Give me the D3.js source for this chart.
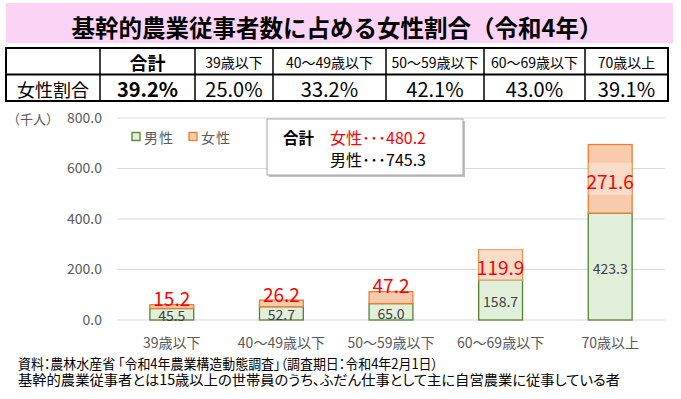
<!DOCTYPE html>
<html>
<head>
<meta charset="utf-8">
<script src="https://cdn.jsdelivr.net/npm/d3@7"></script>
<style>
  body { margin: 0; background: #fff; }
  svg { display: block; font-family: "Noto Sans CJK JP", "Noto Sans", sans-serif; }
</style>
</head>
<body>
<svg id="chart" width="681" height="399"></svg>
<script>
// data
const ageGroups = ["39歳以下", "40～49歳以下", "50～59歳以下", "60～69歳以下", "70歳以上"];
const maleValues = [45.5, 52.7, 65.0, 158.7, 423.3];
const femaleValues = [15.2, 26.2, 47.2, 119.9, 271.6];
const yTicks = [0, 200, 400, 600, 800];
const tableHeaders = ["合計", "39歳以下", "40～49歳以下", "50～59歳以下", "60～69歳以下", "70歳以上"];
const femaleShares = ["39.2%", "25.0%", "33.2%", "42.1%", "43.0%", "39.1%"];
const totalFemale = 480.2;
const totalMale = 745.3;

const svg = d3.select("#chart");

// title band
svg.append("rect")
  .attr("x", 6).attr("y", 3).attr("width", 667).attr("height", 40)
  .attr("fill", "#fbd3f5");
svg.append("text")
  .attr("x", 337).attr("y", 27)
  .attr("text-anchor", "middle")
  .attr("dominant-baseline", "central")
  .attr("font-size", 23.5).attr("font-weight", "bold")
  .attr("fill", "#000")
  .text("基幹的農業従事者数に占める女性割合（令和4年）");

// share table
const colEdges = [6, 100, 195, 273, 386, 484, 585, 668];
const rowEdges = [48, 74.5, 101];
const table = svg.append("g");

table.selectAll("line.v")
  .data(colEdges.slice(1, -1))
  .enter().append("line")
  .attr("x1", d => d).attr("x2", d => d)
  .attr("y1", rowEdges[0]).attr("y2", rowEdges[2])
  .attr("stroke", "#000").attr("stroke-width", 1.5);
table.append("line")
  .attr("x1", colEdges[0]).attr("x2", colEdges[7])
  .attr("y1", rowEdges[1]).attr("y2", rowEdges[1])
  .attr("stroke", "#000").attr("stroke-width", 1.8);
table.append("rect")
  .attr("x", colEdges[0]).attr("y", rowEdges[0])
  .attr("width", colEdges[7] - colEdges[0]).attr("height", rowEdges[2] - rowEdges[0])
  .attr("fill", "none").attr("stroke", "#000").attr("stroke-width", 2);

table.selectAll("text.head")
  .data(tableHeaders)
  .enter().append("text")
  .attr("x", (d, i) => (colEdges[i + 1] + colEdges[i + 2]) / 2)
  .attr("y", (rowEdges[0] + rowEdges[1]) / 2 + 1)
  .attr("text-anchor", "middle")
  .attr("dominant-baseline", "central")
  .attr("font-size", (d, i) => i === 0 ? 18 : 14)
  .attr("font-weight", (d, i) => i === 0 ? "bold" : "normal")
  .attr("fill", "#000")
  .text(d => d);

table.append("text")
  .attr("x", (colEdges[0] + colEdges[1]) / 2)
  .attr("y", (rowEdges[1] + rowEdges[2]) / 2 + 1)
  .attr("text-anchor", "middle")
  .attr("dominant-baseline", "central")
  .attr("font-size", 18)
  .text("女性割合");

table.selectAll("text.val")
  .data(femaleShares)
  .enter().append("text")
  .attr("x", (d, i) => (colEdges[i + 1] + colEdges[i + 2]) / 2)
  .attr("y", (rowEdges[1] + rowEdges[2]) / 2 + 1)
  .attr("text-anchor", "middle")
  .attr("dominant-baseline", "central")
  .attr("font-size", 20)
  .attr("font-weight", (d, i) => i === 0 ? "bold" : "normal")
  .text(d => d);

// chart
const plotLeft = 117, plotRight = 665, plotTop = 118, plotBottom = 320;

const x = d3.scaleBand()
  .domain(ageGroups)
  .range([plotLeft, plotRight])
  .paddingInner(0.6)
  .paddingOuter(0.3);

const y = d3.scaleLinear()
  .domain([0, 800])
  .range([plotBottom, plotTop]);

// gridlines
svg.append("g")
  .selectAll("line")
  .data(yTicks)
  .enter().append("line")
  .attr("x1", plotLeft).attr("x2", plotRight)
  .attr("y1", d => y(d)).attr("y2", d => y(d))
  .attr("stroke", "#d9d9d9").attr("stroke-width", 1.2);

// y axis
const yAxis = svg.append("g")
  .attr("transform", `translate(${plotLeft},0)`)
  .call(d3.axisLeft(y).tickValues(yTicks).tickFormat(d3.format(".1f")).tickSize(0).tickPadding(15));
yAxis.select(".domain").remove();
yAxis.selectAll("text")
  .attr("font-family", "\"Noto Sans CJK JP\", sans-serif")
  .attr("font-size", 14).attr("fill", "#595959");

svg.append("text")
  .attr("x", 7).attr("y", y(800))
  .attr("dominant-baseline", "central")
  .attr("font-size", 13).attr("fill", "#595959")
  .text("（千人）");

// x axis
const xAxis = svg.append("g")
  .attr("transform", `translate(0,${plotBottom})`)
  .call(d3.axisBottom(x).tickSize(0).tickPadding(18));
xAxis.select(".domain").remove();
xAxis.selectAll("text")
  .attr("font-family", "\"Noto Sans CJK JP\", sans-serif")
  .attr("font-size", 14).attr("fill", "#595959");

// stacked bars
const rows = ageGroups.map((g, i) => ({ group: g, male: maleValues[i], female: femaleValues[i] }));
const stacked = d3.stack().keys(["male", "female"])(rows);
const fills = { male: "#e2efda", female: "#f8cbad" };
const strokes = { male: "#548235", female: "#ed7d31" };

svg.append("g")
  .selectAll("g")
  .data(stacked)
  .enter().append("g")
  .attr("fill", d => fills[d.key])
  .attr("stroke", d => strokes[d.key])
  .attr("stroke-width", 1.3)
  .selectAll("rect")
  .data(d => d)
  .enter().append("rect")
  .attr("x", d => x(d.data.group))
  .attr("width", x.bandwidth())
  .attr("y", d => y(d[1]))
  .attr("height", d => y(d[0]) - y(d[1]));

// male labels
svg.append("g")
  .selectAll("text")
  .data(stacked[0])
  .enter().append("text")
  .attr("x", d => x(d.data.group) + x.bandwidth() / 2)
  .attr("y", d => (y(d[0]) + y(d[1])) / 2 + 1)
  .attr("text-anchor", "middle")
  .attr("dominant-baseline", "central")
  .attr("font-size", 14).attr("fill", "#404040")
  .text(d => d3.format(".1f")(d.data.male));

// female labels: inside the segment when tall enough, else sitting on top
const femaleSeg = stacked[1];
const inside = d => (y(d[0]) - y(d[1])) > 25;
const fLabels = svg.append("g");
fLabels.selectAll("rect")
  .data(femaleSeg.filter(inside))
  .enter().append("rect")
  .attr("x", d => x(d.data.group))
  .attr("width", x.bandwidth())
  .attr("y", d => (y(d[0]) + y(d[1])) / 2 - 16)
  .attr("height", 32)
  .attr("fill", "#fff").attr("fill-opacity", 0.35);
fLabels.selectAll("text")
  .data(femaleSeg)
  .enter().append("text")
  .attr("x", d => x(d.data.group) + x.bandwidth() / 2)
  .attr("y", d => inside(d) ? (y(d[0]) + y(d[1])) / 2 + 2 : y(d[1]) - 7)
  .attr("text-anchor", "middle")
  .attr("dominant-baseline", "central")
  .attr("font-size", 19).attr("fill", "#ff0000")
  .text(d => d3.format(".1f")(d.data.female));

// legend
const legend = svg.append("g").attr("transform", "translate(132,137)");
[["男性", "male", 0], ["女性", "female", 57]].forEach(([label, key, dx]) => {
  legend.append("rect")
    .attr("x", dx).attr("y", -4.5).attr("width", 8).attr("height", 8)
    .attr("fill", fills[key]).attr("stroke", strokes[key]).attr("stroke-width", 1.3);
  legend.append("text")
    .attr("x", dx + 12).attr("y", 0)
    .attr("dominant-baseline", "central")
    .attr("font-size", 14).attr("letter-spacing", 1).attr("fill", "#595959")
    .text(label);
});

// totals box
const box = svg.append("g");
box.append("rect")
  .attr("x", 269).attr("y", 121).attr("width", 196).attr("height", 56)
  .attr("fill", "#bfbfbf");
box.append("rect")
  .attr("x", 267).attr("y", 119).attr("width", 196).attr("height", 56)
  .attr("fill", "#fff").attr("stroke", "#a6a6a6").attr("stroke-width", 1);
box.append("text")
  .attr("x", 283).attr("y", 137)
  .attr("dominant-baseline", "central")
  .attr("font-size", 15.5).attr("font-weight", "bold").attr("fill", "#000")
  .text("合計");
box.append("text")
  .attr("x", 330).attr("y", 137)
  .attr("dominant-baseline", "central")
  .attr("font-size", 16).attr("fill", "#ff0000")
  .text("女性･･･" + d3.format(".1f")(totalFemale));
box.append("text")
  .attr("x", 330).attr("y", 159)
  .attr("dominant-baseline", "central")
  .attr("font-size", 16).attr("fill", "#000")
  .text("男性･･･" + d3.format(".1f")(totalMale));

// notes
const notes = svg.append("g")
  .attr("font-size", 14).attr("fill", "#000")
  .style("font-feature-settings", "\"palt\"");
notes.append("text").attr("x", 18).attr("y", 368.5)
  .attr("textLength", 420).attr("lengthAdjust", "spacingAndGlyphs")
  .text("資料：農林水産省 「令和4年農業構造動態調査」（調査期日：令和4年2月1日）");
notes.append("text").attr("x", 18).attr("y", 384.5)
  .attr("textLength", 602).attr("lengthAdjust", "spacingAndGlyphs")
  .text("基幹的農業従事者とは15歳以上の世帯員のうち、ふだん仕事として主に自営農業に従事している者");
</script>
</body>
</html>
